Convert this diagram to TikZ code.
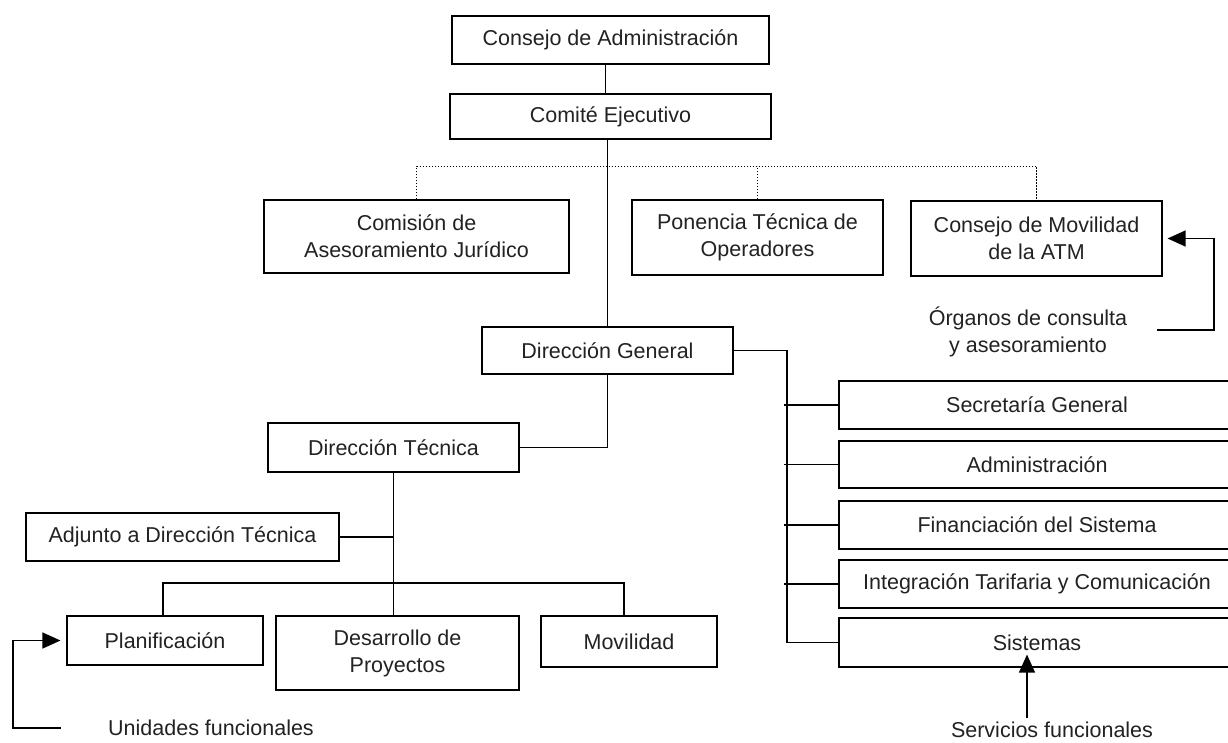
\documentclass[tikz,border=0pt]{standalone}
\usepackage{fontspec}
\setmainfont{Liberation Sans}
\usetikzlibrary{arrows.meta}
\definecolor{txt}{HTML}{222222}
\tikzset{
  box/.style={draw, line width=1.1pt, inner sep=0pt, align=center, text=txt,
    font=\fontsize{21.5}{27}\selectfont},
  lbl/.style={inner sep=0pt, align=center, text=txt, font=\fontsize{21.5}{27}\selectfont},
  conn/.style={line width=1.1pt},
  dotline/.style={line width=1.7pt, dash pattern=on 1.4pt off 1.6pt},
  arr/.style={line width=1.2pt, -{Triangle[length=18pt,width=16pt]}},
}
\begin{document}
\begin{tikzpicture}[x=1pt,y=-1pt]
\clip (0,0) rectangle (1228,743);
\fill[white] (0,0) rectangle (1228,743);
% top
\node[box, minimum width=317pt, minimum height=48pt] (ca) at (610.5,40) {Consejo de Administración};
\node[box, minimum width=321pt, minimum height=45pt] (ce) at (610.5,116.5) {Comité Ejecutivo};
% advisory
\node[box, minimum width=305pt, minimum height=73pt] (cj) at (416.5,236.5) {Comisión de\\Asesoramiento Jurídico};
\node[box, minimum width=251pt, minimum height=75pt] (pt) at (757.5,237.5) {Ponencia Técnica de\\Operadores};
\node[box, minimum width=251pt, minimum height=75pt] (cm) at (1036.5,238.5) {Consejo de Movilidad\\de la ATM};
\node[lbl] (oc) at (1028,332) {Órganos de consulta\\y asesoramiento};
% direction
\node[box, minimum width=251pt, minimum height=47pt] (dg) at (607.5,350.5) {Dirección General};
\node[box, minimum width=251pt, minimum height=49pt] (dt) at (393.5,447.5) {Dirección Técnica};
\node[box, minimum width=313pt, minimum height=48pt] (aj) at (182.5,537) {Adjunto a Dirección Técnica};
\node[box, minimum width=196pt, minimum height=49pt] (pl) at (165,640.5) {Planificación};
\node[box, minimum width=243pt, minimum height=74pt] (dp) at (397.5,653) {Desarrollo de\\Proyectos};
\node[box, minimum width=176pt, minimum height=51pt] (mo) at (629,641.5) {Movilidad};
\node[lbl] (uf) at (211,728) {Unidades funcionales};
% services
\node[box, minimum width=396pt, minimum height=48pt] (sg) at (1037,405) {Secretaría General};
\node[box, minimum width=396pt, minimum height=47pt] (ad) at (1037,464.5) {Administración};
\node[box, minimum width=396pt, minimum height=48pt] (fs) at (1037,525) {Financiación del Sistema};
\node[box, minimum width=396pt, minimum height=48pt] (it) at (1037,584) {Integración Tarifaria y Comunicación};
\node[box, minimum width=396pt, minimum height=49pt] (si) at (1037,642.5) {Sistemas};
\node[lbl] (sf) at (1052,730) {Servicios funcionales};
% connectors
\draw[conn] ([xshift=-5pt]ca.south) -- ([xshift=-5pt]ce.north);
\draw[conn] (ce.south -| dg.north) -- (dg.north);
\draw[dotline] (cj.north) -- ++(0,-33) -| (cm.north);
\draw[dotline] (pt.north) -- ++(0,-33);
\draw[conn] (dg.south) |- (dt.east);
\draw[conn] (dt.south) -- (dt.south |- dp.north);
\draw[conn] (aj.east) -- (dt.south |- aj.east);
\coordinate (hb) at (0,583);
\draw[conn] ([xshift=-2pt]pl.north) -- ([xshift=-2pt]pl.north |- hb) -- ([xshift=-5pt]mo.north |- hb) -- ([xshift=-5pt]mo.north);
\coordinate (bt) at (787,351);
\draw[conn] (dg.east) -- (dg.east -| bt) -- (bt |- si.west) -- (si.west);
\foreach \n in {sg,ad,fs,it} \draw[conn] ([xshift=-3pt]bt |- \n.west) -- (\n.west);
% arrows
\coordinate (oa) at (1157,330);
\draw[arr] (oa) -- ++(57,0) |- ([xshift=5pt]cm.east);
\coordinate (ua) at (61,728);
\draw[arr] (ua) -- ++(-48,0) |- ([xshift=-6pt]pl.west);
\coordinate (sa) at (1027,718);
\draw[arr] (sa) -- ([yshift=13pt]sa |- si.south);
\end{tikzpicture}
\end{document}
